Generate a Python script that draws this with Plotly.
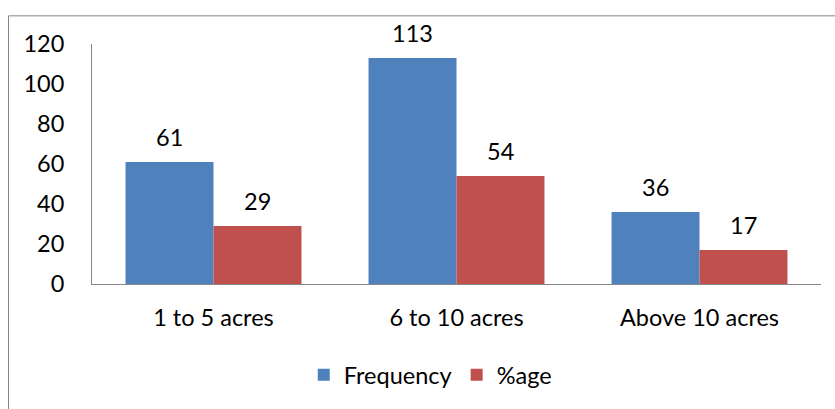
import plotly.graph_objects as go

categories = ["1 to 5 acres", "6 to 10 acres", "Above 10 acres"]
frequency = [61, 113, 36]
percentage = [29, 54, 17]
y_ticks = [0, 20, 40, 60, 80, 100, 120]

BLUE = "#4F81BD"
RED = "#C0504D"
AXIS = "#868686"
FONT = dict(family="Lato, Carlito, Calibri, sans-serif", size=23.5, color="#000000")

fig = go.Figure()
fig.add_trace(go.Bar(name="Frequency", x=categories, y=frequency, marker=dict(color=BLUE, line=dict(width=0))))
fig.add_trace(go.Bar(name="%age", x=categories, y=percentage, marker=dict(color=RED, line=dict(width=0))))

# data labels above bars
for i, c in enumerate(categories):
    fig.add_annotation(x=c, y=frequency[i], text=str(frequency[i]), xshift=-44, yshift=9,
                       yanchor="bottom", showarrow=False, font=FONT)
    fig.add_annotation(x=c, y=percentage[i], text=str(percentage[i]), xshift=44, yshift=9,
                       yanchor="bottom", showarrow=False, font=FONT)

W, H = 835, 409
L, R, T, B = 92, 14, 44, 122
pw, ph = W - L - R, H - T - B
fig.add_shape(type="rect", xref="paper", yref="paper",
              x0=(8.5 - L) / pw, x1=1 + 40 / pw, y0=-(B + 40) / ph, y1=1 + (T - 15.5) / ph,
              line=dict(color=AXIS, width=1), fillcolor="rgba(0,0,0,0)", layer="below")

fig.update_layout(
    width=W, height=H,
    margin=dict(l=L, r=R, t=T, b=B),
    paper_bgcolor="white", plot_bgcolor="white",
    barmode="group", bargap=0.276, bargroupgap=0,
    font=FONT,
    showlegend=True,
    legend=dict(orientation="h", x=0.464, xanchor="center", y=-(379 - 287) / ph, yanchor="middle",
                font=FONT, itemwidth=30, bgcolor="rgba(0,0,0,0)"),
    xaxis=dict(showline=True, linecolor=AXIS, linewidth=1, ticks="", showgrid=False,
               ticklabelstandoff=13, tickfont=FONT),
    yaxis=dict(range=[0, 120], tickvals=y_ticks, showline=True, linecolor=AXIS, linewidth=1,
               ticks="", showgrid=False, zeroline=False, ticklabelstandoff=22, tickfont=FONT),
)

fig.write_html("out.html")
